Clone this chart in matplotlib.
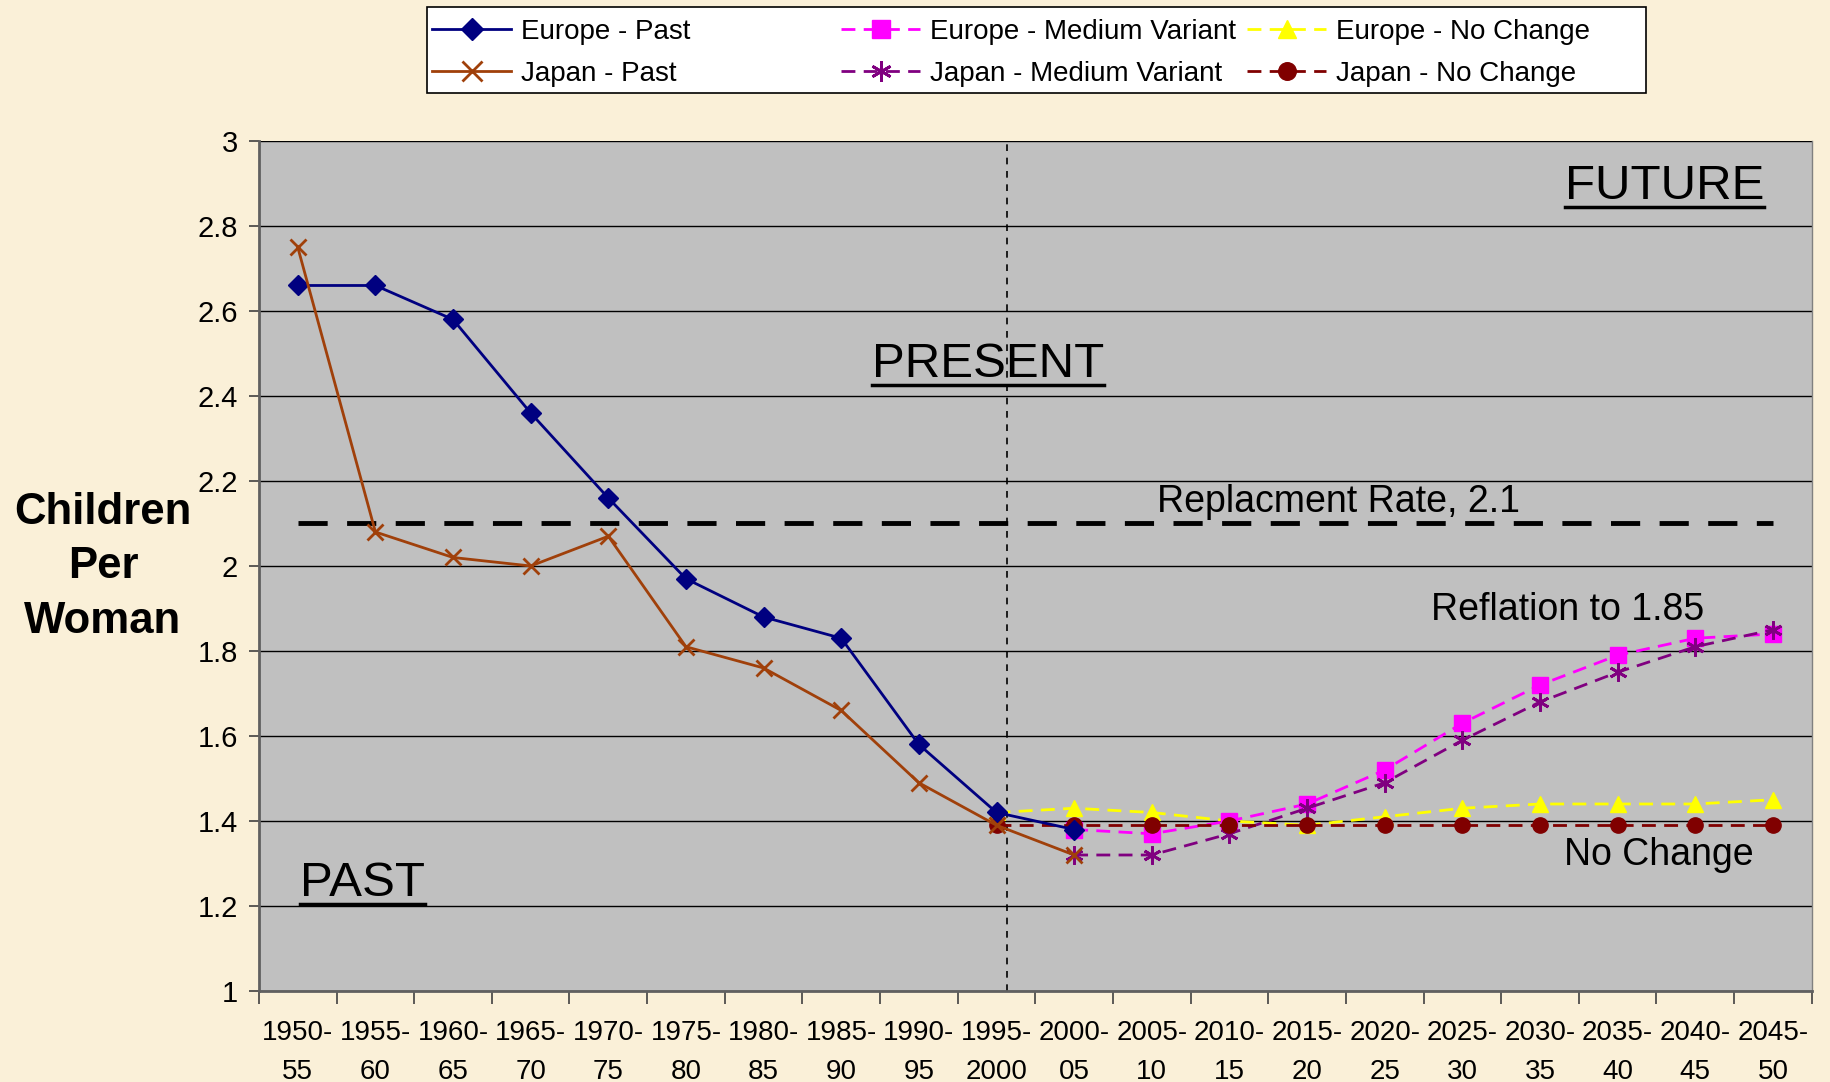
import matplotlib
matplotlib.use("Agg")
import matplotlib.pyplot as plt
from matplotlib.patches import Rectangle

periods = ["1950-\n55", "1955-\n60", "1960-\n65", "1965-\n70", "1970-\n75", "1975-\n80",
           "1980-\n85", "1985-\n90", "1990-\n95", "1995-\n2000", "2000-\n05", "2005-\n10",
           "2010-\n15", "2015-\n20", "2020-\n25", "2025-\n30", "2030-\n35", "2035-\n40",
           "2040-\n45", "2045-\n50"]

europe_past = [2.66, 2.66, 2.58, 2.36, 2.16, 1.97, 1.88, 1.83, 1.58, 1.42, 1.38]
japan_past = [2.75, 2.08, 2.02, 2.00, 2.07, 1.81, 1.76, 1.66, 1.49, 1.39, 1.32]
europe_medium = [1.38, 1.37, 1.40, 1.44, 1.52, 1.63, 1.72, 1.79, 1.83, 1.84]
japan_medium = [1.32, 1.32, 1.37, 1.43, 1.49, 1.59, 1.68, 1.75, 1.81, 1.85]
europe_nochange = [1.42, 1.43, 1.42, 1.40, 1.39, 1.41, 1.43, 1.44, 1.44, 1.44, 1.45]
japan_nochange = [1.39] * 11
replacement_rate = 2.1
present_pos = 9.13

narrow = ["Liberation Sans Narrow", "Liberation Sans", "DejaVu Sans"]
arial = ["Liberation Sans", "DejaVu Sans"]

fig = plt.figure(figsize=(18.3, 10.82), dpi=100)
fig.patch.set_facecolor("#FAF0D8")
ax = fig.add_axes([0.1415, 0.0841, 0.8485, 0.7856])
ax.set_facecolor("#C0C0C0")

n = len(periods)
xp = list(range(len(europe_past)))
xf = list(range(10, n))
xnc = list(range(9, n))

h1, = ax.plot(xp, europe_past, color="#000080", lw=2, marker="D", ms=10, label="Europe - Past", zorder=5)
h2, = ax.plot(list(range(len(japan_past))), japan_past, color="#A0400A", lw=2, marker="x", ms=12, mew=2,
              label="Japan - Past", zorder=5)
h3, = ax.plot(xf, europe_medium, color="#FF00FF", lw=2, ls=(0, (5, 3)), marker="s", ms=11,
              label="Europe - Medium Variant", zorder=4)
h4, = ax.plot(xf, japan_medium, color="#800080", lw=2, ls=(0, (5, 3)), marker=(6, 2, 0), ms=13, mew=2,
              label="Japan - Medium Variant", zorder=4)
h5, = ax.plot(xnc, europe_nochange, color="#FFFF00", lw=2, ls=(0, (5, 3)), marker="^", ms=11,
              label="Europe - No Change", zorder=3)
h6, = ax.plot(xnc, japan_nochange, color="#800000", lw=2, ls=(0, (5, 3)), marker="o", ms=11,
              label="Japan - No Change", zorder=4)

ax.plot([0, n - 1], [replacement_rate, replacement_rate], color="black", lw=3.5,
        ls=(0, (6, 4)), zorder=2)
ax.axvline(present_pos, color="black", lw=1.2, ls=(0, (4, 4)), zorder=2)

ax.set_xlim(-0.5, n - 0.5)
ax.set_ylim(1, 3)
ax.set_yticks([1 + 0.2 * i for i in range(11)])
ax.set_yticklabels(["1", "1.2", "1.4", "1.6", "1.8", "2", "2.2", "2.4", "2.6", "2.8", "3"])
ax.yaxis.grid(True, color="black", lw=1)
ax.set_axisbelow(True)
ax.set_xticks([i - 0.5 for i in range(n + 1)])
ax.set_xticklabels([])
ax.set_xticks(list(range(n)), minor=True)
ax.set_xticklabels(periods, minor=True, fontsize=20, family=narrow, linespacing=1.62)
ax.tick_params(axis="x", which="minor", length=0, pad=21)
ax.tick_params(axis="x", which="major", length=9, width=1.2, color="#404040")
ax.tick_params(axis="y", length=7, width=1.2, color="#404040", labelsize=21, pad=8)
for lab in ax.get_yticklabels():
    lab.set_family(arial)
ax.spines["top"].set_visible(False)
for side in ["left", "bottom"]:
    ax.spines[side].set_color("#606060")
    ax.spines[side].set_linewidth(2)
ax.spines["right"].set_linewidth(1)
ax.spines["right"].set_color("#808080")

fig.text(0.0563, 0.476, "Children\nPer\nWoman", ha="center", va="center", fontsize=31.5,
         fontweight="bold", family=arial, linespacing=1.42)

texts = []
texts.append(ax.text(17.6, 2.893, "FUTURE", fontsize=35.5, ha="center", va="center", family=arial))
texts.append(ax.text(8.89, 2.473, "PRESENT", fontsize=35.5, ha="center", va="center", family=arial))
texts.append(ax.text(0.84, 1.253, "PAST", fontsize=35.5, ha="center", va="center", family=arial))
ax.text(13.4, 2.151, "Replacment Rate, 2.1", fontsize=27, ha="center", va="center", family=narrow)
ax.text(16.36, 1.896, "Reflation to 1.85", fontsize=27, ha="center", va="center", family=narrow)
ax.text(17.53, 1.319, "No Change", fontsize=27, ha="center", va="center", family=narrow)

fig.canvas.draw()
renderer = fig.canvas.get_renderer()
inv = ax.transData.inverted()
for t in texts:
    bb = t.get_window_extent(renderer)
    (x0, y0), (x1, y1) = inv.transform([[bb.x0, bb.y0 + 2], [bb.x1, bb.y0 + 2]])
    ax.plot([x0, x1], [y0, y0], color="black", lw=2.5, zorder=6, clip_on=False)

# legend frame and three equal-width columns
fig.patches.append(Rectangle((427 / 1830, 1 - 93 / 1082), (1646 - 427) / 1830, (93 - 7) / 1082,
                             transform=fig.transFigure, facecolor="white", edgecolor="black",
                             lw=1.2, zorder=1))
col_x = [432 / 1830, 841 / 1830, 1247 / 1830]
cols = [[h1, h2], [h3, h4], [h5, h6]]
for cx, hs in zip(col_x, cols):
    lg = fig.legend(hs, [h.get_label() for h in hs], loc="upper left",
                    bbox_to_anchor=(cx, 1 - 19 / 1082), frameon=False,
                    prop={"family": narrow, "size": 20}, handlelength=2.85,
                    handletextpad=0.35, borderpad=0, borderaxespad=0, labelspacing=0.58,
                    markerscale=1.15)
    lg.set_zorder(2)

fig.savefig("out.png", dpi=100, facecolor=fig.get_facecolor())
